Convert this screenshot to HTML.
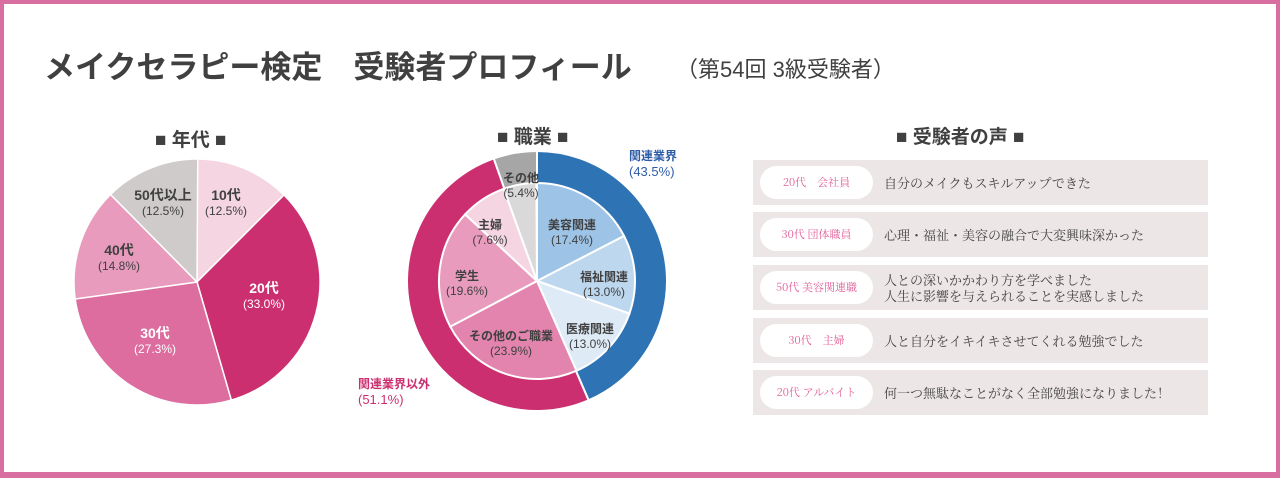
<!DOCTYPE html><html><head><meta charset="utf-8"><style>
body{margin:0;width:1280px;height:478px;overflow:hidden;background:#fff;font-family:"Liberation Sans","Noto Sans CJK JP",sans-serif;}
.frame{position:absolute;left:0;top:0;width:1272px;height:468px;border:4px solid #d96fa0;border-bottom-width:6px;}
.t{position:absolute;white-space:nowrap;color:#404040}
.box{position:absolute;left:753px;width:455px;height:45px;background:#ede6e6}
.pill{position:absolute;left:7px;top:6px;width:113px;height:33px;border-radius:17px;background:#fff;color:#e0609a;font:11px "Noto Serif CJK SC","Liberation Serif",serif;text-align:center;line-height:33px}
.q{position:absolute;left:131px;top:0;height:45px;display:flex;align-items:center;font:13px "Noto Serif CJK SC","Liberation Serif",serif;color:#444;line-height:16px}
</style></head><body>
<div class="frame"></div>
<div class="t" style="left:44px;top:42px;font-size:31px;font-weight:bold;letter-spacing:0px">メイクセラピー検定　受験者プロフィール</div>
<div class="t" style="left:676px;top:52px;font-size:22px">（第54回 3級受験者）</div>
<div class="t" style="left:155px;top:125px;font-size:19px;font-weight:bold">■ 年代 ■</div>
<div class="t" style="left:497px;top:122px;font-size:19px;font-weight:bold">■ 職業 ■</div>
<div class="t" style="left:896px;top:122px;font-size:19px;font-weight:bold">■ 受験者の声 ■</div>
<svg id="s" width="1280" height="478" style="position:absolute;left:0;top:0"></svg>
<div class="box" style="top:160px"><div class="pill">20代　会社員</div><div class="q">自分のメイクもスキルアップできた</div></div>
<div class="box" style="top:212px"><div class="pill">30代 団体職員</div><div class="q">心理・福祉・美容の融合で大変興味深かった</div></div>
<div class="box" style="top:265px"><div class="pill">50代 美容関連職</div><div class="q">人との深いかかわり方を学べました<br>人生に影響を与えられることを実感しました</div></div>
<div class="box" style="top:318px"><div class="pill">30代　主婦</div><div class="q">人と自分をイキイキさせてくれる勉強でした</div></div>
<div class="box" style="top:370px"><div class="pill">20代 アルバイト</div><div class="q">何一つ無駄なことがなく全部勉強になりました！</div></div>
<script>
var s=document.getElementById('s'),h='';
function pt(cx,cy,r,f){var a=f*2*Math.PI;return [cx+r*Math.sin(a),cy-r*Math.cos(a)];}
function pie(cx,cy,r,d,ri,sw){var c=0;d.forEach(function(x){var a=c,b=c+x[0]/100;c=b;var p1=pt(cx,cy,r,a),p2=pt(cx,cy,r,b),l=(b-a)>.5?1:0,p;
if(ri){var q1=pt(cx,cy,ri,b),q2=pt(cx,cy,ri,a);p='M'+p1+'A'+r+','+r+' 0 '+l+' 1 '+p2+'L'+q1+'A'+ri+','+ri+' 0 '+l+' 0 '+q2+'Z';}
else p='M'+cx+','+cy+'L'+p1+'A'+r+','+r+' 0 '+l+' 1 '+p2+'Z';
h+='<path d="'+p+'" fill="'+x[1]+'" stroke="#fff" stroke-width="'+sw+'"/>';});}
pie(197,282,123,[[12.5,'#f4d5e1'],[33,'#cc2f6f'],[27.3,'#de6d9f'],[14.8,'#e89bbd'],[12.5,'#cfcbcb']],0,1.5);
pie(537,281,130,[[43.5,'#2e74b5'],[51.1,'#cc2f6f'],[5.4,'#a6a6a6']],97,2);
pie(537,281,98,[[17.4,'#9dc3e6'],[13,'#bdd7ee'],[13,'#deebf7'],[23.9,'#e384ae'],[19.6,'#e89bbd'],[7.6,'#f4d5e1'],[5.4,'#d9d9d9']],0,2);
function lab(x,y,a,b,c,w,sz){h+='<text x="'+x+'" y="'+y+'" text-anchor="middle" fill="'+c+'" font-size="'+(sz||14)+'" font-weight="bold">'+a+'</text><text x="'+x+'" y="'+(y+15)+'" text-anchor="middle" fill="'+c+'" font-size="12">'+b+'</text>';}
lab(226,200,'10代','(12.5%)','#404040');lab(264,293,'20代','(33.0%)','#fff');
lab(155,338,'30代','(27.3%)','#fff');lab(119,255,'40代','(14.8%)','#404040');lab(163,200,'50代以上','(12.5%)','#404040');
lab(572,229,'美容関連','(17.4%)','#404040',0,12);lab(604,281,'福祉関連','(13.0%)','#404040',0,12);
lab(590,333,'医療関連','(13.0%)','#404040',0,12);lab(511,340,'その他のご職業','(23.9%)','#404040',0,12);
lab(467,280,'学生','(19.6%)','#404040',0,12);lab(490,229,'主婦','(7.6%)','#404040',0,12);lab(521,182,'その他','(5.4%)','#404040',0,12);
h+='<text x="629" y="160" fill="#2e5da8" font-size="12" font-weight="bold">関連業界</text><text x="629" y="176" fill="#2e5da8" font-size="13">(43.5%)</text>';
h+='<text x="358" y="388" fill="#cc2f6f" font-size="12" font-weight="bold">関連業界以外</text><text x="358" y="404" fill="#cc2f6f" font-size="13">(51.1%)</text>';
s.innerHTML=h;
</script>
</body></html>
